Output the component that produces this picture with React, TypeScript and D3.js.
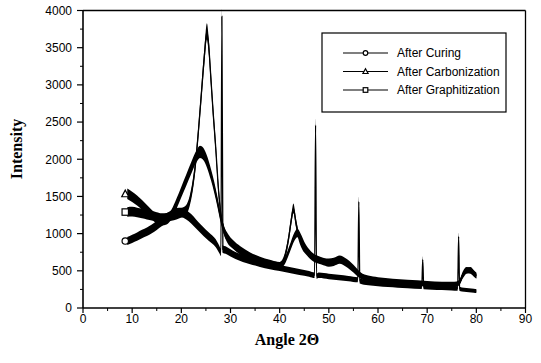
import React from "react";
import * as d3 from "d3";

const xTicks = [0, 10, 20, 30, 40, 50, 60, 70, 80, 90];
const yTicks = [0, 500, 1000, 1500, 2000, 2500, 3000, 3500, 4000];
const seriesNames = ["After Curing", "After Carbonization", "After Graphitization"];

const curing: [number, number][] = [
  [9, 900], [10, 930], [11, 960], [12, 995], [13, 1025], [14, 1065], [15, 1110], [16, 1160],
  [17, 1210], [18, 1250], [19, 1280], [20, 1285], [21, 1255], [22, 1200], [23, 1130], [24, 1060],
  [25, 995], [26, 935], [27, 870], [27.7, 790], [28.05, 750], [28.25, 3920], [28.45, 790], [29, 780],
  [30, 740], [31, 705], [32, 680], [33, 655], [34, 635], [35, 615], [36, 595], [38, 565], [40, 540],
  [42, 510], [44, 485], [46, 460], [47.1, 440], [47.3, 2460], [47.5, 430], [48, 440], [50, 425],
  [52, 410], [54, 395], [55.9, 380], [56.1, 1430], [56.3, 365], [58, 340], [60, 325], [62, 315],
  [64, 305], [66, 295], [68.9, 285], [69.1, 650], [69.3, 282], [71, 275], [73, 270], [75, 265],
  [76.2, 262], [76.4, 960], [76.6, 258], [77.5, 245], [78.5, 238], [79.5, 232], [80, 228],
];

const carbonization: [number, number][] = [
  [9, 1535], [10, 1495], [11, 1445], [12, 1385], [13, 1320], [14, 1255], [15, 1200], [16, 1170],
  [17, 1185], [18, 1260], [19, 1400], [20, 1560], [21, 1720], [22, 1880], [23, 2030], [23.8, 2100],
  [24.5, 2070], [25.2, 1970], [26, 1800], [26.7, 1620], [27.3, 1440], [28, 1210], [28.7, 1040],
  [29.5, 940], [30.5, 860], [32, 780], [34, 700], [36, 645], [38, 605], [40, 575], [41, 630],
  [42, 790], [43, 960], [43.6, 1010], [44.3, 940], [45, 840], [46, 740], [47, 680], [48, 650],
  [50, 620], [51, 630], [52.2, 660], [53.5, 620], [55, 540], [56.5, 440], [58, 400], [60, 380],
  [63, 360], [66, 345], [70, 330], [73, 320], [75.5, 320], [76.5, 340], [77.3, 440], [78, 500],
  [78.8, 510], [79.5, 470], [80, 440],
];

const graphitization: [number, number][] = [
  [9, 1290], [10, 1295], [11, 1285], [12, 1270], [13, 1255], [14, 1240], [15, 1225], [16, 1210],
  [17, 1215], [18, 1235], [19, 1255], [20, 1280], [21, 1320], [21.7, 1440], [22.3, 1640],
  [22.9, 1950], [23.5, 2400], [24.1, 2900], [24.7, 3400], [25.2, 3720], [25.6, 3500], [26.0, 3100],
  [26.5, 2600], [27.0, 2150], [27.5, 1640], [28.0, 1280], [28.6, 1060], [29.3, 940], [30.5, 850],
  [32, 765], [34, 690], [36, 635], [38, 595], [40, 575], [41, 680], [41.8, 930], [42.4, 1200],
  [42.8, 1340], [43.3, 1150], [43.9, 960], [44.6, 840], [45.5, 760], [46.5, 690], [47.5, 650],
  [48.5, 630], [50, 600], [51, 610], [52.2, 640], [53.5, 600], [55, 520], [56.5, 430], [58, 390],
  [60, 370], [63, 350], [66, 335], [70, 320], [73, 312], [75.5, 312], [76.5, 340], [77.3, 460],
  [78, 510], [78.8, 500], [79.5, 460], [80, 430],
];

const allSeries = [curing, carbonization, graphitization];
const markers = ["circle", "triangle", "square"];

const W = 541;
const H = 363;
const L = 83;
const R = 525.5;
const T = 10.5;
const B = 308;

const x = d3.scaleLinear().domain([0, 90]).range([L, R]);
const y = d3.scaleLinear().domain([0, 4000]).range([B, T]);

const noise = (v: number) => 1.8 * Math.sqrt(v);

const band = d3
  .area<[number, number]>()
  .x((d) => x(d[0]))
  .y0((d) => y(d[1] - noise(d[1])))
  .y1((d) => y(d[1] + noise(d[1])))
  .curve(d3.curveMonotoneX);

const line = d3
  .line<[number, number]>()
  .x((d) => x(d[0]))
  .y((d) => y(d[1]))
  .curve(d3.curveMonotoneX);

function Marker({ kind, cx, cy, s = 3.2 }: { kind: string; cx: number; cy: number; s?: number }) {
  if (kind === "circle")
    return <circle cx={cx} cy={cy} r={s} fill="white" stroke="black" strokeWidth={1.2} />;
  if (kind === "triangle")
    return (
      <path
        d={`M${cx},${cy - s - 0.5}L${cx + s + 0.3},${cy + s - 0.3}L${cx - s - 0.3},${cy + s - 0.3}Z`}
        fill="white"
        stroke="black"
        strokeWidth={1.2}
      />
    );
  return <rect x={cx - s} y={cy - s} width={2 * s} height={2 * s} fill="white" stroke="black" strokeWidth={1.2} />;
}

export default function App() {
  const font = "'Liberation Sans', Arial, sans-serif";
  const serif = "'Liberation Serif', 'Times New Roman', serif";
  const minorY = d3.range(250, 4000, 500);
  const minorX = d3.range(5, 90, 10);
  const legendRows = [53, 71.5, 90];
  return (
    <svg width={W} height={H} style={{ position: "absolute", left: 0, top: 0, background: "white" }}>
      <rect width={W} height={H} fill="white" />
      {allSeries.map((s, i) => (
        <g key={i}>
          <path d={band(s) || ""} fill="black" />
          <path d={line(s) || ""} fill="none" stroke="black" strokeWidth={1.3} />
        </g>
      ))}
      {allSeries.map((s, i) => (
        <Marker key={i} kind={markers[i]} cx={x(s[0][0]) - 2} cy={y(s[0][1])} />
      ))}
      {/* frame */}
      <line x1={L} x2={R} y1={T} y2={T} stroke="black" strokeWidth={1.3} />
      <line x1={R} x2={R} y1={T} y2={B} stroke="black" strokeWidth={1.3} />
      <line x1={L} x2={L} y1={T} y2={B} stroke="black" strokeWidth={1.6} />
      <line x1={L} x2={R} y1={B} y2={B} stroke="black" strokeWidth={1.6} />
      {/* y ticks */}
      {yTicks.map((t) => (
        <g key={t}>
          <line x1={L - 6} x2={L} y1={y(t)} y2={y(t)} stroke="black" strokeWidth={1.2} />
          <text x={72} y={y(t)} dy="0.36em" textAnchor="end" fontFamily={font} fontSize={12}>
            {t}
          </text>
        </g>
      ))}
      {minorY.map((t) => (
        <line key={t} x1={L - 3} x2={L} y1={y(t)} y2={y(t)} stroke="black" strokeWidth={1} />
      ))}
      {/* x ticks */}
      {xTicks.map((t) => (
        <g key={t}>
          <line x1={x(t)} x2={x(t)} y1={B} y2={B + 5} stroke="black" strokeWidth={1.2} />
          <text x={x(t)} y={323} textAnchor="middle" fontFamily={font} fontSize={12}>
            {t}
          </text>
        </g>
      ))}
      {minorX.map((t) => (
        <line key={t} x1={x(t)} x2={x(t)} y1={B} y2={B + 3} stroke="black" strokeWidth={1} />
      ))}
      {/* axis titles */}
      <text
        transform={`translate(22,149) rotate(-90)`}
        textAnchor="middle"
        fontFamily={serif}
        fontWeight="bold"
        fontSize={16}
      >
        Intensity
      </text>
      <text x={287} y={345} textAnchor="middle" fontFamily={serif} fontWeight="bold" fontSize={16}>
        Angle 2Θ
      </text>
      {/* legend */}
      <rect x={322} y={33} width={184} height={79} fill="white" stroke="black" strokeWidth={1.2} />
      {seriesNames.map((n, i) => (
        <g key={n}>
          <line x1={343} x2={388} y1={legendRows[i]} y2={legendRows[i]} stroke="black" strokeWidth={1.1} />
          <Marker kind={markers[i]} cx={365.5} cy={legendRows[i]} s={2.3} />
          <text x={397} y={legendRows[i]} dy="0.36em" fontFamily={font} fontSize={12}>
            {n}
          </text>
        </g>
      ))}
    </svg>
  );
}
